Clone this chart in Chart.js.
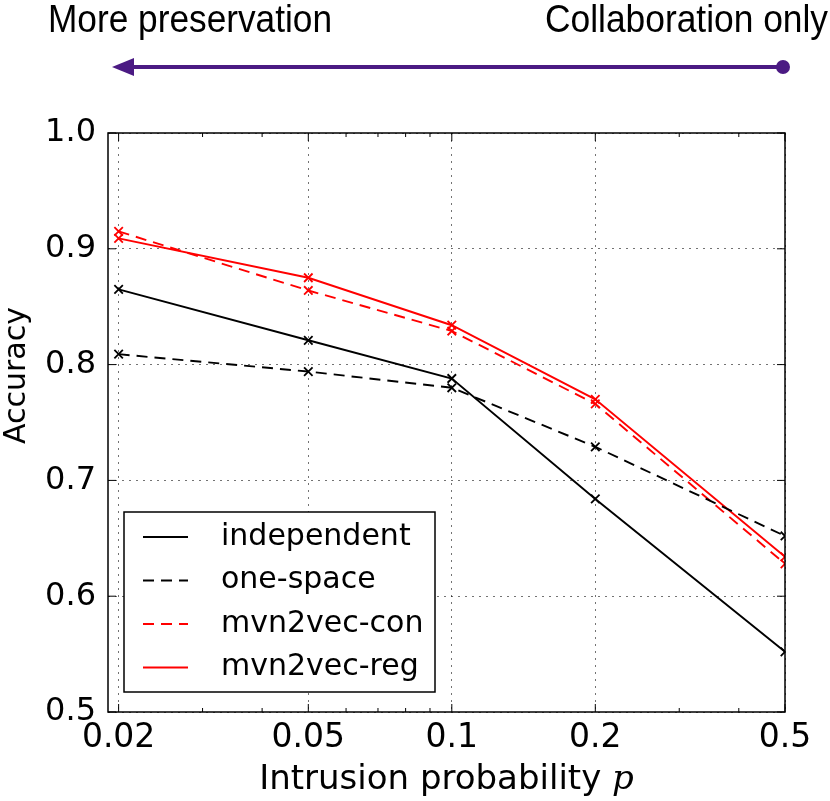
<!DOCTYPE html>
<html>
<head>
<meta charset="utf-8">
<script src="https://cdn.jsdelivr.net/npm/chart.js@4.4.1/dist/chart.umd.min.js"></script>
<style>
html, body { margin: 0; padding: 0; background: #fff; }
#wrap { width: 830px; height: 801px; position: relative; }
</style>
</head>
<body>
<div id="wrap"><canvas id="myChart"></canvas></div>
<script>
// values
let probs = [0.02, 0.05, 0.1, 0.2, 0.5];
let independent = [0.865, 0.821, 0.788, 0.684, 0.552];
let oneSpace = [0.809, 0.794, 0.780, 0.729, 0.652];
let mvnCon = [0.915, 0.864, 0.829, 0.766, 0.628];
let mvnReg = [0.909, 0.875, 0.834, 0.770, 0.634];
let seriesNames = ['independent', 'one-space', 'mvn2vec-con', 'mvn2vec-reg'];

let xTicks = [0.02, 0.05, 0.1, 0.2, 0.5];
let xMinor = [0.03, 0.04, 0.06, 0.07, 0.08, 0.09, 0.3, 0.4];
let yTicks = [0.5, 0.6, 0.7, 0.8, 0.9, 1.0];

let leftText = 'More preservation';
let rightText = 'Collaboration only';

const FONT = '"DejaVu Sans", sans-serif';
Chart.defaults.font.family = FONT;
Chart.defaults.color = '#000';

function pts(vals) {
    return probs.map((p, i) => ({ x: p, y: vals[i] }));
}

function makeSet(name, vals, color, dash) {
    return {
        label: name,
        data: pts(vals),
        borderColor: color,
        backgroundColor: color,
        borderWidth: 1.9,
        borderDash: dash,
        pointStyle: 'crossRot',
        pointRadius: 6,
        pointBorderWidth: 1.8,
        pointBorderColor: color,
        pointHoverRadius: 6,
        tension: 0
    };
}

function fitText(ctx, str, x, y, w, size) {
    ctx.font = size + 'px "Liberation Sans", Arial, sans-serif';
    let m = ctx.measureText(str).width;
    ctx.save();
    ctx.translate(x, y);
    ctx.scale(w / m, 1);
    ctx.textAlign = 'left';
    ctx.textBaseline = 'alphabetic';
    ctx.fillText(str, 0, 0);
    ctx.restore();
}

const extras = {
    id: 'extras',
    afterDraw(chart) {
        const ctx = chart.ctx;
        const ca = chart.chartArea;
        const xs = chart.scales.x, ys = chart.scales.y;
        ctx.save();

        // frame
        ctx.strokeStyle = '#000';
        ctx.lineWidth = 1.5;
        ctx.setLineDash([]);
        ctx.strokeRect(ca.left, ca.top, ca.right - ca.left, ca.bottom - ca.top);

        // inward ticks
        ctx.lineWidth = 1;
        ctx.beginPath();
        xTicks.forEach(v => {
            let px = xs.getPixelForValue(v);
            ctx.moveTo(px, ca.bottom); ctx.lineTo(px, ca.bottom - 8);
            ctx.moveTo(px, ca.top); ctx.lineTo(px, ca.top + 8);
        });
        xMinor.forEach(v => {
            let px = xs.getPixelForValue(v);
            ctx.moveTo(px, ca.bottom); ctx.lineTo(px, ca.bottom - 4);
            ctx.moveTo(px, ca.top); ctx.lineTo(px, ca.top + 4);
        });
        yTicks.forEach(v => {
            let py = ys.getPixelForValue(v);
            ctx.moveTo(ca.left, py); ctx.lineTo(ca.left + 8, py);
            ctx.moveTo(ca.right, py); ctx.lineTo(ca.right - 8, py);
        });
        ctx.stroke();

        // legend
        let lx = ca.left + 16, lw = 311, lh = 180;
        let ly = ca.bottom - 20 - lh;
        ctx.fillStyle = '#fff';
        ctx.fillRect(lx, ly, lw, lh);
        ctx.lineWidth = 1.5;
        ctx.strokeStyle = '#000';
        ctx.strokeRect(lx, ly, lw, lh);
        ctx.font = '30px ' + FONT;
        ctx.textBaseline = 'middle';
        ctx.textAlign = 'left';
        chart.data.datasets.forEach((ds, i) => {
            let ry = ly + 25 + i * 43.5;
            ctx.strokeStyle = ds.borderColor;
            ctx.lineWidth = 1.9;
            ctx.setLineDash(ds.borderDash || []);
            ctx.beginPath();
            ctx.moveTo(lx + 19, ry); ctx.lineTo(lx + 64, ry);
            ctx.stroke();
            ctx.setLineDash([]);
            ctx.fillStyle = '#000';
            ctx.fillText(ds.label, lx + 97, ry);
        });

        // x title with italic p
        ctx.fillStyle = '#000';
        ctx.textBaseline = 'alphabetic';
        let t1 = 'Intrusion probability ';
        ctx.font = '34px ' + FONT;
        let w1 = ctx.measureText(t1).width;
        ctx.font = 'italic 34px "DejaVu Serif", serif';
        let w2 = ctx.measureText('p').width;
        let sx = (ca.left + ca.right) / 2 - (w1 + w2) / 2;
        ctx.font = '34px ' + FONT;
        ctx.fillText(t1, sx, 789);
        ctx.font = 'italic 34px "DejaVu Serif", serif';
        ctx.fillText('p', sx + w1, 789);

        // y title
        ctx.save();
        ctx.translate(25, (ca.top + ca.bottom) / 2 - 47);
        ctx.rotate(-Math.PI / 2);
        ctx.font = '30px ' + FONT;
        ctx.textAlign = 'center';
        ctx.fillText('Accuracy', 0, 0);
        ctx.restore();

        // header texts and arrow
        ctx.fillStyle = '#000';
        fitText(ctx, leftText, 48, 32, 284, 38);
        fitText(ctx, rightText, 545, 32, 283, 38);
        const purple = '#4b1a83';
        ctx.strokeStyle = purple;
        ctx.fillStyle = purple;
        ctx.lineWidth = 4;
        ctx.beginPath();
        ctx.moveTo(130, 67); ctx.lineTo(783, 67);
        ctx.stroke();
        ctx.beginPath();
        ctx.moveTo(112, 67); ctx.lineTo(134, 58); ctx.lineTo(134, 76); ctx.closePath();
        ctx.fill();
        ctx.beginPath();
        ctx.arc(783, 67, 7, 0, Math.PI * 2);
        ctx.fill();

        ctx.restore();
    }
};

const ctx = document.getElementById('myChart').getContext('2d');
const myChart = new Chart(ctx, {
    type: 'line',
    data: {
        datasets: [
            makeSet(seriesNames[0], independent, '#000', []),
            makeSet(seriesNames[1], oneSpace, '#000', [11, 7]),
            makeSet(seriesNames[2], mvnCon, '#ff0000', [11, 7]),
            makeSet(seriesNames[3], mvnReg, '#ff0000', [])
        ]
    },
    options: {
        responsive: true,
        maintainAspectRatio: false,
        animation: false,
        layout: { padding: { top: 133, right: 45, left: 0, bottom: 0 } },
        plugins: {
            legend: { display: false },
            tooltip: { enabled: false }
        },
        scales: {
            x: {
                type: 'logarithmic',
                min: 0.019,
                max: 0.5,
                afterBuildTicks: s => { s.ticks = xTicks.map(v => ({ value: v })); },
                afterFit: s => { s.height = 89; },
                ticks: {
                    autoSkip: false,
                    maxRotation: 0,
                    padding: 7,
                    font: { size: 33 },
                    color: '#000',
                    callback: v => String(v)
                },
                grid: { color: 'rgba(0,0,0,0.55)', lineWidth: 1, drawTicks: false },
                border: { display: false, dash: [2, 5] }
            },
            y: {
                min: 0.5,
                max: 1.0,
                afterBuildTicks: s => { s.ticks = yTicks.map(v => ({ value: v })); },
                afterFit: s => { s.width = 108; },
                ticks: {
                    padding: 12,
                    font: { size: 32 },
                    color: '#000',
                    callback: v => v.toFixed(1)
                },
                grid: { color: 'rgba(0,0,0,0.55)', lineWidth: 1, drawTicks: false },
                border: { display: false, dash: [2, 5] }
            }
        }
    },
    plugins: [extras]
});
</script>
</body>
</html>
